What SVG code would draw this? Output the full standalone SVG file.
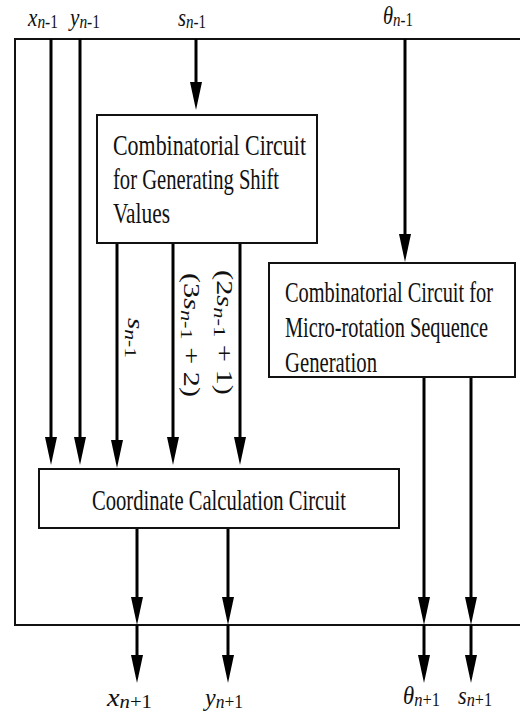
<svg xmlns="http://www.w3.org/2000/svg" width="520" height="715" viewBox="0 0 520 715">
  <style>
    .box { fill: #fff; stroke: #111; stroke-width: 2; }
    .frame { fill: none; stroke: #111; stroke-width: 2; }
    .wire { fill: none; stroke: #000; stroke-width: 3; }
    .btxt { font-family: "Liberation Serif", "Times New Roman", serif; font-size: 30px; fill: #111; }
    .lbl { font-family: "Liberation Serif", "Times New Roman", serif; font-size: 26px; fill: #111; }
    .rot { font-family: "Liberation Serif", "Times New Roman", serif; font-size: 23px; fill: #111; }
    .v { font-style: italic; }
  </style>
  <defs>
    <marker id="arrow" markerUnits="userSpaceOnUse" markerWidth="28" markerHeight="12" viewBox="0 0 28 12" refX="18" refY="6" orient="auto">
      <path d="M0,0 L28,6 L0,12 Z" fill="#000"/>
    </marker>
  </defs>

  <!-- enclosing boundary, open on the right -->
  <path class="frame" d="M522,39 H15 V625 H522"/>

  <!-- signal lines -->
  <g id="connectors" class="wire" marker-end="url(#arrow)">
    <line x1="51" y1="39" x2="51" y2="455"/>
    <line x1="80" y1="39" x2="80" y2="455"/>
    <line x1="196" y1="39" x2="196" y2="100"/>
    <line x1="405" y1="39" x2="405" y2="252"/>
    <line x1="117" y1="243" x2="117" y2="458"/>
    <line x1="173" y1="243" x2="173" y2="455"/>
    <line x1="240" y1="243" x2="240" y2="455"/>
    <line x1="137" y1="528" x2="137" y2="615"/>
    <line x1="137" y1="625" x2="137" y2="673"/>
    <line x1="228" y1="528" x2="228" y2="615"/>
    <line x1="228" y1="625" x2="228" y2="673"/>
    <line x1="424" y1="377" x2="424" y2="615"/>
    <line x1="424" y1="625" x2="424" y2="673"/>
    <line x1="471" y1="377" x2="471" y2="615"/>
    <line x1="471" y1="625" x2="471" y2="673"/>
  </g>

  <!-- input labels -->
  <g id="inputs" class="lbl">
    <text x="28" y="26" textLength="30" lengthAdjust="spacingAndGlyphs"><tspan class="v">x</tspan><tspan dy="2" font-size="19"><tspan class="v">n</tspan>-1</tspan></text>
    <text x="70" y="26" textLength="30" lengthAdjust="spacingAndGlyphs"><tspan class="v">y</tspan><tspan dy="2" font-size="19"><tspan class="v">n</tspan>-1</tspan></text>
    <text x="178" y="26" textLength="28" lengthAdjust="spacingAndGlyphs"><tspan class="v">s</tspan><tspan dy="2" font-size="19"><tspan class="v">n</tspan>-1</tspan></text>
    <text x="383" y="24" textLength="30" lengthAdjust="spacingAndGlyphs"><tspan class="v">θ</tspan><tspan dy="2" font-size="19"><tspan class="v">n</tspan>-1</tspan></text>
  </g>

  <!-- output labels -->
  <g id="outputs" class="lbl">
    <text x="107" y="706" textLength="45" lengthAdjust="spacingAndGlyphs"><tspan class="v">x</tspan><tspan dy="2" font-size="19"><tspan class="v">n</tspan>+1</tspan></text>
    <text x="205" y="706" textLength="38" lengthAdjust="spacingAndGlyphs"><tspan class="v">y</tspan><tspan dy="2" font-size="19"><tspan class="v">n</tspan>+1</tspan></text>
    <text x="403" y="704" textLength="37" lengthAdjust="spacingAndGlyphs"><tspan class="v">θ</tspan><tspan dy="2" font-size="19"><tspan class="v">n</tspan>+1</tspan></text>
    <text x="458" y="704" textLength="34" lengthAdjust="spacingAndGlyphs"><tspan class="v">s</tspan><tspan dy="2" font-size="19"><tspan class="v">n</tspan>+1</tspan></text>
  </g>

  <!-- vertical wire labels -->
  <g id="shift-labels" class="rot">
    <text transform="translate(128,318) rotate(90)" textLength="40" lengthAdjust="spacingAndGlyphs"><tspan class="v">s</tspan><tspan dy="3" font-size="17"><tspan class="v">n</tspan>-1</tspan></text>
    <text transform="translate(184,273) rotate(90)" textLength="124" lengthAdjust="spacingAndGlyphs">(3<tspan class="v">s</tspan><tspan dy="3" font-size="17"><tspan class="v">n</tspan>-1</tspan><tspan dy="-3"> + 2)</tspan></text>
    <text transform="translate(217,270) rotate(90)" textLength="125" lengthAdjust="spacingAndGlyphs">(2<tspan class="v">s</tspan><tspan dy="3" font-size="17"><tspan class="v">n</tspan>-1</tspan><tspan dy="-3"> + 1)</tspan></text>
  </g>

  <g id="shift-values">
    <rect class="box" x="97" y="115" width="220" height="128"/>
    <text class="btxt" x="113" y="155" textLength="193" lengthAdjust="spacingAndGlyphs">Combinatorial Circuit</text>
    <text class="btxt" x="113" y="189" textLength="166" lengthAdjust="spacingAndGlyphs">for Generating Shift</text>
    <text class="btxt" x="113" y="223" textLength="57" lengthAdjust="spacingAndGlyphs">Values</text>
  </g>

  <g id="micro-rotation">
    <rect class="box" x="269" y="263" width="246" height="114"/>
    <text class="btxt" x="285" y="302" textLength="208" lengthAdjust="spacingAndGlyphs">Combinatorial Circuit for</text>
    <text class="btxt" x="285" y="337" textLength="203" lengthAdjust="spacingAndGlyphs">Micro-rotation Sequence</text>
    <text class="btxt" x="285" y="372" textLength="92" lengthAdjust="spacingAndGlyphs">Generation</text>
  </g>

  <g id="coordinate-calc">
    <rect class="box" x="39" y="469" width="360" height="59"/>
    <text class="btxt" x="92" y="510" textLength="254" lengthAdjust="spacingAndGlyphs">Coordinate Calculation Circuit</text>
  </g>
</svg>
